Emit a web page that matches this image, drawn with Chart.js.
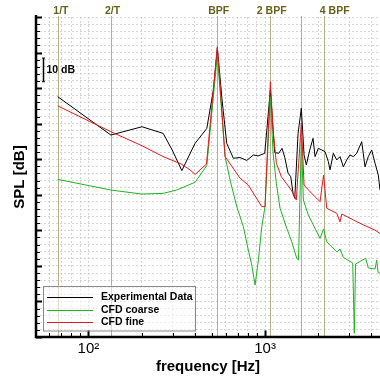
<!DOCTYPE html>
<html><head><meta charset="utf-8">
<script src="https://cdn.jsdelivr.net/npm/chart.js@4.4.1/dist/chart.umd.min.js"></script>
<style>html,body{margin:0;padding:0;background:#fff}#wrap{width:380px;height:377px;position:relative}</style>
</head><body><div id="wrap"><canvas id="c"></canvas></div>
<script>
// ---- data ----
const expFreq = [67,134,201,265,298,338,385,402,468,510,537,571,607,662,722,788,859,913,996,1072,1134,1195,1248,1293,1350,1398,1441,1473,1538,1605,1663,1713,1791,1869,1919,2003,2094,2186,2282,2333,2435,2546,2658,2774,2900,3027,3161,3303,3526,3681,3842,4017,4195,4378,4475];
const expSpl  = [121.4,105.2,108.7,105.9,98.9,90.2,98.9,101.7,108.0,124.2,141.9,120.0,101.7,95.4,95.7,94.5,96.8,96.4,97.5,124.2,97.8,97.5,99.6,95.8,89.1,87.6,80.6,78.5,105.9,116.5,96.8,92.6,98.9,103.8,96.1,99.6,98.9,98.2,94.0,90.5,97.5,94.7,96.1,91.8,94.7,96.8,96.1,97.5,102.4,91.8,96.1,98.9,93.3,88.3,82.0];

const coarseFreq = [67,134,201,265,316,402,468,537,594,634,692,754,804,841,878,917,958,1000,1072,1110,1159,1216,1327,1416,1512,1547,1605,1648,1758,1876,2048,2144,2235,2546,2658,2774,3136,3202,3253,3714,3842,4195,4289,4361,4475];
const coarseSpl  = [86.5,82.0,80.3,80.6,82.0,85.3,92.3,139.0,96.1,86.2,75.0,66.5,56.7,50.4,41.9,52.5,66.5,75.0,121.3,97.6,84.8,74.3,65.9,60.2,53.2,52.5,104.0,77.8,71.5,67.3,61.6,65.6,60.2,55.9,57.1,53.6,51.2,21.6,50.8,53.2,49.1,48.7,52.5,47.4,46.9];

const fineFreq = [67,134,201,265,335,376,402,429,466,537,594,722,804,958,1000,1072,1110,1159,1237,1320,1409,1503,1605,1663,1798,1962,2048,2144,2235,2546,2658,2718,3161,3600,4195,4475];
const fineSpl  = [117.5,106.6,100.7,96.1,93.0,90.5,88.6,90.5,93.0,142.5,96.1,87.0,84.1,75.0,75.0,127.7,107.3,93.3,87.6,84.8,82.0,77.8,110.3,84.1,81.3,78.5,77.1,88.3,74.3,72.2,68.6,71.9,69.4,67.3,65.1,63.7];

const seriesNames = ['Experimental Data','CFD coarse','CFD fine'];

const markerFreqs = [67,134,536,1072,1608,2144];
const markerLabels = ['1/T','2/T','BPF','2 BPF','','4 BPF'];
const markerLabelFreqs = [69.9,137,547,1091,1608,2480];

const xMin = 50.5, xMax = 4475;
const xTickValues = [60,70,80,90,100,200,300,400,500,600,700,800,900,1000,2000,3000,4000];
const xMajorTicks = [100,1000];
const xMajorLabels = ['10²','10³'];
const yMin = 20, yMax = 155, yMajorStep = 15, yMinorStep = 3;
const scaleBarTop = 137.7, scaleBarDb = 10;

// ---- styles ----
const FONT = "'Liberation Sans', Arial, Helvetica, sans-serif";
Chart.defaults.font.family = FONT;
Chart.defaults.color = '#000';
const colors = ['#000000','#1fb31f','#e01b1b'];
const markerColor = '#b2b08c';
const markerTextColor = '#63631c';

const mk = (fx, fy) => fx.map((v,i) => ({x: v, y: fy[i]}));

const decor = {
  id: 'decor',
  beforeDatasetsDraw(chart) {
    const {ctx, chartArea: a, scales: {x}} = chart;
    ctx.save();
    ctx.strokeStyle = markerColor; ctx.lineWidth = 1;
    markerFreqs.forEach(f => {
      const px = Math.round(x.getPixelForValue(f)) + 0.5;
      ctx.beginPath(); ctx.moveTo(px, a.top - 1); ctx.lineTo(px, a.bottom); ctx.stroke();
    });
    ctx.restore();
  },
  afterDatasetsDraw(chart) {
    const {ctx, chartArea: a, scales: {x, y}} = chart;
    ctx.save();
    // marker labels
    ctx.fillStyle = markerTextColor;
    ctx.font = "bold 10.5px " + FONT;
    ctx.textAlign = 'center'; ctx.textBaseline = 'middle';
    markerLabels.forEach((t, i) => {
      if (!t) return;
      ctx.fillText(t, x.getPixelForValue(markerLabelFreqs[i]), a.top - 5.5);
    });
    // axes lines
    ctx.strokeStyle = '#000'; ctx.lineWidth = 2.5;
    ctx.beginPath(); ctx.moveTo(a.left, a.top - 2); ctx.lineTo(a.left, a.bottom); ctx.lineTo(a.right, a.bottom); ctx.stroke();
    // y ticks (inward)
    y.ticks.forEach(t => {
      const py = Math.round(y.getPixelForValue(t.value)) + 0.5;
      const major = Math.abs(((t.value - yMin) % yMajorStep)) < 1e-6;
      ctx.lineWidth = major ? 2 : 1;
      ctx.beginPath(); ctx.moveTo(a.left, py); ctx.lineTo(a.left + (major ? 6 : 4), py); ctx.stroke();
    });
    // x ticks (inward)
    x.ticks.forEach(t => {
      const px = Math.round(x.getPixelForValue(t.value)) + 0.5;
      const major = xMajorTicks.includes(t.value);
      ctx.lineWidth = major ? 2 : 1;
      ctx.beginPath(); ctx.moveTo(px, a.bottom); ctx.lineTo(px, a.bottom - (major ? 6.5 : 4)); ctx.stroke();
    });
    // 10 dB scale bar
    const bx = a.left + 7.5;
    const by1 = y.getPixelForValue(scaleBarTop), by2 = y.getPixelForValue(scaleBarTop - scaleBarDb);
    ctx.lineWidth = 1.5;
    ctx.beginPath(); ctx.moveTo(bx, by1); ctx.lineTo(bx, by2); ctx.stroke();
    ctx.lineWidth = 1;
    ctx.beginPath(); ctx.moveTo(bx - 1.5, by1); ctx.lineTo(bx + 1.5, by1); ctx.moveTo(bx - 1.5, by2); ctx.lineTo(bx + 1.5, by2); ctx.stroke();
    ctx.fillStyle = '#000';
    ctx.font = "bold 10.5px " + FONT;
    ctx.textAlign = 'left'; ctx.textBaseline = 'middle';
    ctx.fillText('10 dB', bx + 3, (by1 + by2) / 2);
    // legend
    const lx = a.left + 7, lw = 152, lh = 44.5, ly = a.bottom - 7 - lh;
    ctx.fillStyle = 'rgba(255,255,255,0.55)';
    ctx.fillRect(lx, ly, lw, lh);
    ctx.strokeStyle = '#8a8a8a'; ctx.lineWidth = 1;
    ctx.strokeRect(Math.round(lx) + 0.5, Math.round(ly) + 0.5, lw, lh);
    chart.data.datasets.forEach((ds, i) => {
      const ry = Math.round(ly + 11.7 + i * 12.5) + 0.5;
      ctx.strokeStyle = ds.borderColor; ctx.lineWidth = 1;
      ctx.beginPath(); ctx.moveTo(lx + 4, ry); ctx.lineTo(lx + 50, ry); ctx.stroke();
      ctx.fillStyle = '#000';
      ctx.fillText(ds.label, lx + 58, ry);
    });
    ctx.restore();
  }
};

new Chart(document.getElementById('c'), {
  type: 'line',
  data: {
    datasets: [
      {label: seriesNames[0], data: mk(expFreq, expSpl), borderColor: colors[0], order: 2},
      {label: seriesNames[1], data: mk(coarseFreq, coarseSpl), borderColor: colors[1], order: 1},
      {label: seriesNames[2], data: mk(fineFreq, fineSpl), borderColor: colors[2], order: 0}
    ]
  },
  options: {
    responsive: true, maintainAspectRatio: false, animation: false, devicePixelRatio: 1,
    layout: {padding: {top: 17, right: 0, left: 0, bottom: 0}},
    elements: {line: {borderWidth: 1, tension: 0, fill: false}, point: {radius: 0, hoverRadius: 0}},
    plugins: {legend: {display: false}, tooltip: {enabled: false}},
    scales: {
      x: {
        type: 'logarithmic', min: xMin, max: xMax,
        afterBuildTicks: s => { s.ticks = xTickValues.map(v => ({value: v, major: xMajorTicks.includes(v)})); },
        afterFit: s => { s.height = 40; },
        ticks: {autoSkip: false, maxRotation: 0, minRotation: 0, padding: 3, font: {size: 15},
          callback: v => { const i = xMajorTicks.indexOf(v); return i >= 0 ? xMajorLabels[i] : ''; }},
        grid: {color: '#d5d5d5', lineWidth: 1, drawTicks: false},
        border: {display: false, dash: [2, 2]},
        title: {display: true, text: 'frequency [Hz]', font: {size: 15, weight: 'bold'}, padding: {top: 0, bottom: 1.5}}
      },
      y: {
        type: 'linear', min: yMin, max: yMax,
        afterFit: s => { s.width = 36; },
        ticks: {display: false, stepSize: yMinorStep},
        grid: {color: '#d5d5d5', lineWidth: 1, drawTicks: false},
        border: {display: false, dash: [2, 2]},
        title: {display: true, text: 'SPL [dB]', font: {size: 15, weight: 'bold'}, padding: {top: 11, bottom: 0}}
      }
    }
  },
  plugins: [decor]
});
</script>
</body></html>
